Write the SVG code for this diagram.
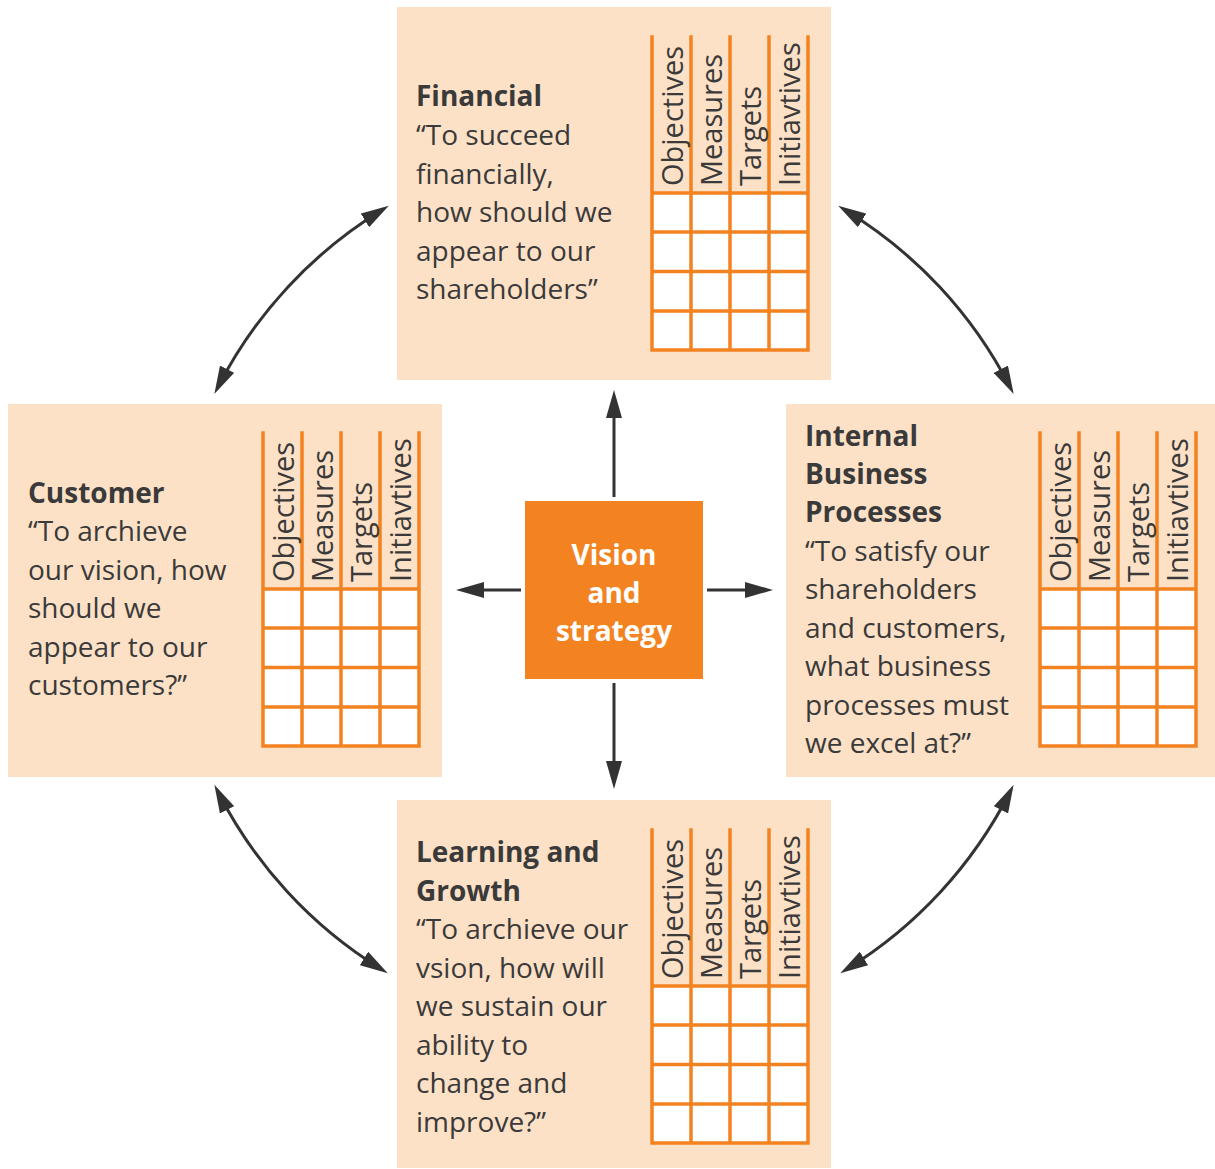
<svg xmlns="http://www.w3.org/2000/svg" xmlns:xlink="http://www.w3.org/1999/xlink" width="1215" height="1169" viewBox="0 0 1215 1169">
<style>
.box{fill:#FDE1C6;}
.txt{font-family:"Open Sans","Liberation Sans",sans-serif;font-size:28px;fill:#3a3a3a;}
.b{font-weight:bold;}
.hd{font-family:"Open Sans","Liberation Sans",sans-serif;font-size:29px;fill:#3a3a3a;}
.gl{stroke:#F38321;stroke-width:3.5;fill:none;stroke-linecap:square;}
.con{stroke:#333;stroke-width:3;fill:none;marker-start:url(#ah);marker-end:url(#ah);}
.con1{stroke:#333;stroke-width:3;fill:none;marker-end:url(#ah);}
.vis{font-family:"Open Sans","Liberation Sans",sans-serif;font-size:28px;font-weight:bold;fill:#fff;text-anchor:middle;}
</style>
<defs>
<marker id="ah" markerWidth="28" markerHeight="16" refX="20" refY="8" orient="auto-start-reverse" markerUnits="userSpaceOnUse" viewBox="0 0 28 16">
<path d="M0,0 L28,8 L0,16 z" fill="#333"/>
</marker>
<g id="grid">
<rect x="0" y="156" width="156" height="157" fill="#fff"/>
<path class="gl" d="M0,0 V313 M39,0 V313 M78,0 V313 M117,0 V313 M156,0 V313 M0,156 H156 M0,195 H156 M0,234.5 H156 M0,274 H156 M0,313 H156"/>
<text class="hd" transform="translate(31,149) rotate(-90)">Objectives</text>
<text class="hd" transform="translate(70,149) rotate(-90)">Measures</text>
<text class="hd" transform="translate(109,149) rotate(-90)">Targets</text>
<text class="hd" transform="translate(148,149) rotate(-90)">Initiavtives</text>
</g>
</defs>
<rect width="1215" height="1169" fill="#fff"/>

<g id="financial">
<rect class="box" x="397" y="7" width="434" height="373"/>
<use xlink:href="#grid" x="652" y="37"/>
<text class="txt" x="416"><tspan class="b" y="106">Financial</tspan><tspan x="416" y="145">“To succeed</tspan><tspan x="416" y="184">financially,</tspan><tspan x="416" y="222">how should we</tspan><tspan x="416" y="261">appear to our</tspan><tspan x="416" y="299">shareholders”</tspan></text>
</g>

<g id="customer">
<rect class="box" x="8" y="404" width="434" height="373"/>
<use xlink:href="#grid" x="263" y="433"/>
<text class="txt" x="28"><tspan class="b" y="503">Customer</tspan><tspan x="28" y="541">“To archieve</tspan><tspan x="28" y="580">our vision, how</tspan><tspan x="28" y="618">should we</tspan><tspan x="28" y="657">appear to our</tspan><tspan x="28" y="695">customers?”</tspan></text>
</g>

<g id="internal">
<rect class="box" x="786" y="404" width="429" height="373"/>
<use xlink:href="#grid" x="1040" y="433"/>
<text class="txt" x="805"><tspan class="b" y="446">Internal</tspan><tspan class="b" x="805" y="484">Business</tspan><tspan class="b" x="805" y="522">Processes</tspan><tspan x="805" y="561">“To satisfy our</tspan><tspan x="805" y="599">shareholders</tspan><tspan x="805" y="638">and customers,</tspan><tspan x="805" y="676">what business</tspan><tspan x="805" y="715">processes must</tspan><tspan x="805" y="753">we excel at?”</tspan></text>
</g>

<g id="learning">
<rect class="box" x="397" y="800" width="434" height="368"/>
<use xlink:href="#grid" x="652" y="830"/>
<text class="txt" x="416"><tspan class="b" y="862">Learning and</tspan><tspan class="b" x="416" y="901">Growth</tspan><tspan x="416" y="939">“To archieve our</tspan><tspan x="416" y="978">vsion, how will</tspan><tspan x="416" y="1016">we sustain our</tspan><tspan x="416" y="1055">ability to</tspan><tspan x="416" y="1093">change and</tspan><tspan x="416" y="1132">improve?”</tspan></text>
</g>

<g id="vision">
<rect x="525" y="501" width="178" height="178" fill="#F38321"/>
<text class="vis" x="614" y="565">Vision</text>
<text class="vis" x="614" y="603">and</text>
<text class="vis" x="614" y="641">strategy</text>
</g>

<g id="connectors">
<path class="con1" d="M614,497 V398"/>
<path class="con1" d="M614,683 V781"/>
<path class="con1" d="M521,590 H464"/>
<path class="con1" d="M707,590 H765"/>
<path class="con" d="M218,387 A445,445 0 0 1 382,210"/>
<path class="con" d="M845,210 A445,445 0 0 1 1010,387"/>
<path class="con" d="M1010,792 A445,445 0 0 1 847,969"/>
<path class="con" d="M381,969 A445,445 0 0 1 218,792"/>
</g>
</svg>
